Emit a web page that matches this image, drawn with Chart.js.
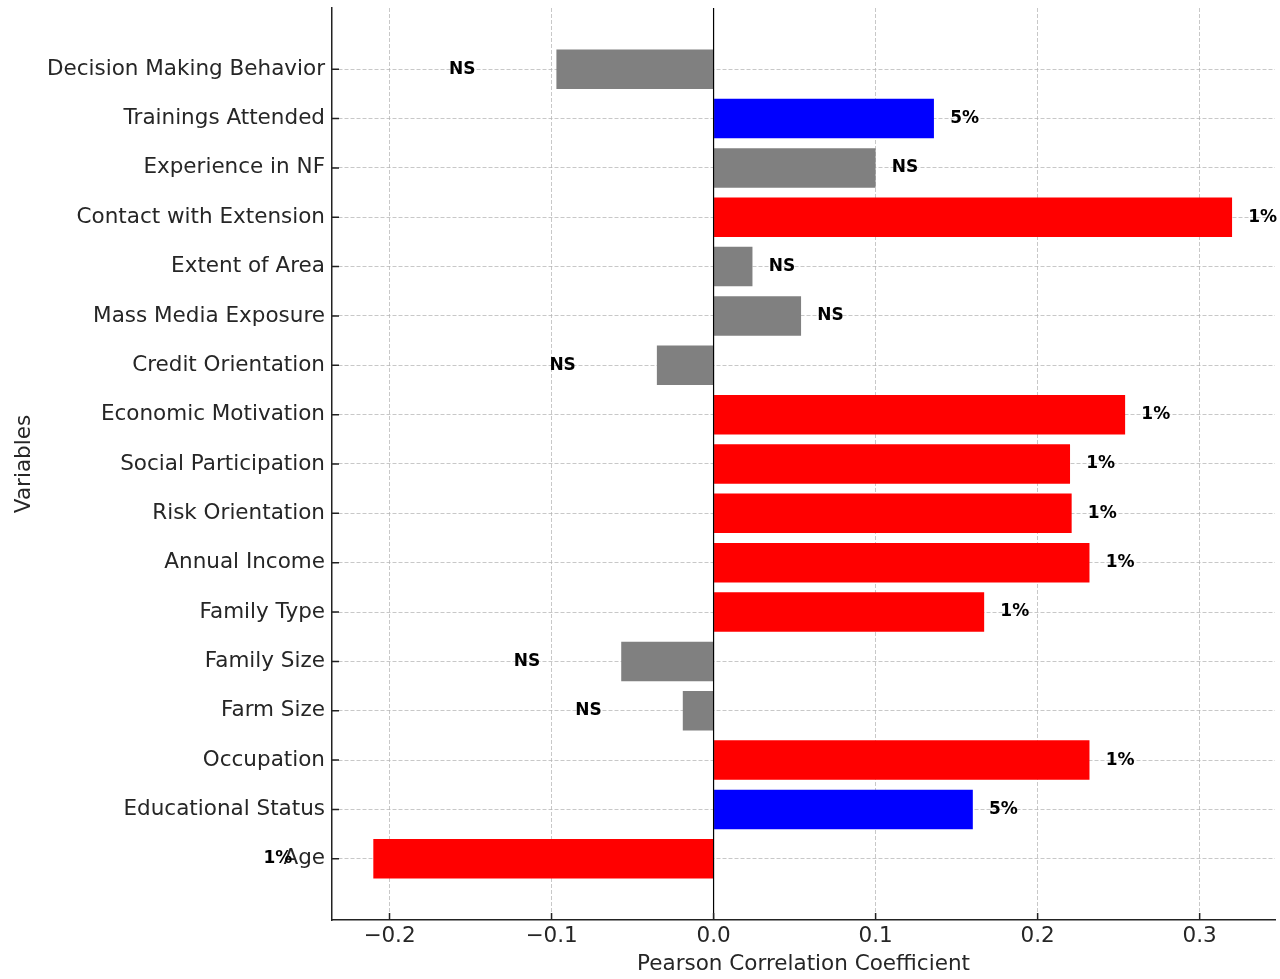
<!DOCTYPE html>
<html>
<head>
<meta charset="utf-8">
<title>Pearson Correlation Coefficient</title>
<script src="https://cdn.jsdelivr.net/npm/chart.js@4.4.0/dist/chart.umd.min.js"></script>
<style>
  html, body { margin: 0; padding: 0; background: #fff; }
  #wrap { width: 1280px; height: 979px; }
</style>
</head>
<body>
<div id="wrap"><canvas id="myChart"></canvas></div>
<script>
'use strict';

// Variables listed bottom to top
var categories = [
  'Age', 'Educational Status', 'Occupation', 'Farm Size', 'Family Size',
  'Family Type', 'Annual Income', 'Risk Orientation', 'Social Participation',
  'Economic Motivation', 'Credit Orientation', 'Mass Media Exposure',
  'Extent of Area', 'Contact with Extension', 'Experience in NF',
  'Trainings Attended', 'Decision Making Behavior'
];
var coefficients = [
  -0.210, 0.160, 0.232, -0.019, -0.057,
  0.167, 0.232, 0.221, 0.220,
  0.254, -0.035, 0.054,
  0.024, 0.320, 0.100,
  0.136, -0.097
];
var significance = [
  '1%', '5%', '1%', 'NS', 'NS',
  '1%', '1%', '1%', '1%',
  '1%', 'NS', 'NS',
  'NS', '1%', 'NS',
  '5%', 'NS'
];
var xTickValues = [-0.2, -0.1, 0.0, 0.1, 0.2, 0.3];

var sigColors = { '1%': '#ff0000', '5%': '#0000ff', 'NS': '#808080' };
var fontFamily = '"DejaVu Sans", sans-serif';
var textColor = '#262626';
var gridColor = 'rgba(176,176,176,0.7)';

//zero line, inward tick marks and the significance notes
var barNotes = {
  id: 'barNotes',
  afterDraw: function (chart) {
    var ctx = chart.ctx;
    var area = chart.chartArea;
    var xs = chart.scales.x;
    var ys = chart.scales.y;

    ctx.save();
    var x0 = xs.getPixelForValue(0);
    ctx.strokeStyle = '#000';
    ctx.lineWidth = 1.2;
    ctx.beginPath();
    ctx.moveTo(x0, area.top);
    ctx.lineTo(x0, area.bottom);
    ctx.stroke();

    ctx.strokeStyle = '#222';
    ctx.lineWidth = 1.5;
    ctx.beginPath();
    for (var t of xTickValues) {
      var px = xs.getPixelForValue(t);
      ctx.moveTo(px, area.bottom);
      ctx.lineTo(px, area.bottom - 7);
    }
    for (var i = 0; i < categories.length; i++) {
      var py = ys.getPixelForValue(i);
      ctx.moveTo(area.left, py);
      ctx.lineTo(area.left + 7, py);
    }
    ctx.stroke();

    ctx.font = 'bold 17px ' + fontFamily;
    ctx.fillStyle = '#000';
    ctx.textBaseline = 'middle';
    for (var j = 0; j < coefficients.length; j++) {
      var v = coefficients[j];
      var ty = ys.getPixelForValue(j);
      if (v > 0) {
        ctx.textAlign = 'left';
        ctx.fillText(significance[j], xs.getPixelForValue(v + 0.01), ty);
      } else {
        ctx.textAlign = 'right';
        ctx.fillText(significance[j], xs.getPixelForValue(v - 0.05), ty);
      }
    }
    ctx.restore();
  }
};

var ctx = document.getElementById('myChart').getContext('2d');
var myChart = new Chart(ctx, {
  type: 'bar',
  data: {
    datasets: [{
      data: categories.map(function (c, i) { return { x: coefficients[i], y: i }; }),
      backgroundColor: significance.map(function (s) { return sigColors[s]; }),
      borderWidth: 0,
      barPercentage: 0.8,
      categoryPercentage: 1.0
    }]
  },
  options: {
    indexAxis: 'y',
    responsive: true,
    maintainAspectRatio: false,
    animation: false,
    layout: { padding: { top: 8, right: 5, left: 0, bottom: 0 } },
    plugins: {
      legend: { display: false },
      tooltip: { enabled: false }
    },
    scales: {
      x: {
        type: 'linear',
        min: -0.2355,
        max: 0.3465,
        z: 1,
        afterBuildTicks: function (scale) {
          scale.ticks = xTickValues.map(function (v) { return { value: v }; });
        },
        afterFit: function (scale) {
          scale.height = 59;
          scale.paddingLeft = 0;
          scale.paddingRight = 0;
        },
        grid: { color: gridColor, lineWidth: 1, drawTicks: false },
        border: { display: true, color: '#222', width: 1.5, dash: [4, 2] },
        ticks: {
          font: { family: fontFamily, size: 21.5 },
          color: textColor,
          padding: 4,
          maxRotation: 0,
          autoSkip: false,
          callback: function (v) { return Number(v).toFixed(1).replace('-', '\u2212'); }
        },
        title: {
          display: true,
          text: 'Pearson Correlation Coefficient',
          font: { family: fontFamily, size: 21.5 },
          color: textColor,
          padding: { top: 0, bottom: 2 }
        }
      },
      y: {
        type: 'linear',
        min: -1.24,
        max: 17.24,
        offset: false,
        z: 1,
        afterBuildTicks: function (scale) {
          scale.ticks = categories.map(function (c, i) { return { value: i }; });
        },
        afterFit: function (scale) {
          scale.width = 332;
          scale.paddingTop = 0;
          scale.paddingBottom = 0;
        },
        grid: { color: gridColor, lineWidth: 1, drawTicks: false, offset: false },
        border: { display: true, color: '#222', width: 1.5, dash: [4, 2] },
        ticks: {
          font: { family: fontFamily, size: 21.5 },
          color: textColor,
          padding: 7,
          autoSkip: false,
          callback: function (v) { return categories[v]; }
        },
        title: {
          display: true,
          text: 'Variables',
          font: { family: fontFamily, size: 21.5 },
          color: textColor,
          padding: { top: 12, bottom: 0 }
        }
      }
    }
  },
  plugins: [barNotes]
});
</script>
</body>
</html>
